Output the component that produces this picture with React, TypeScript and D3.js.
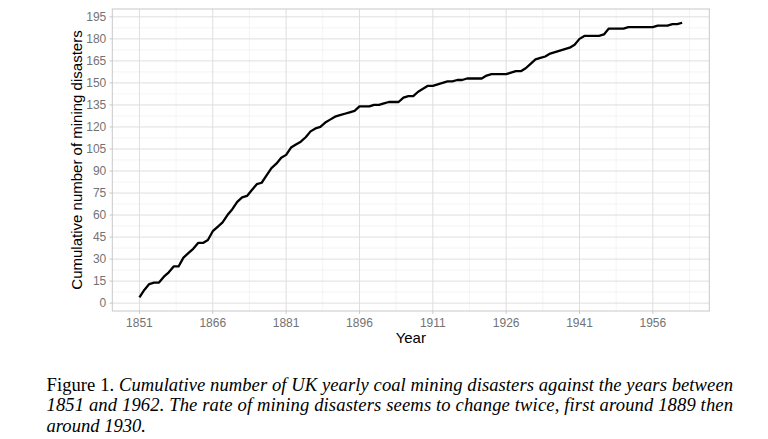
import React from "react";
import * as d3 from "d3";

const years: number[] = [
  1851, 1852, 1853, 1854, 1855, 1856, 1857, 1858, 1859, 1860,
  1861, 1862, 1863, 1864, 1865, 1866, 1867, 1868, 1869, 1870,
  1871, 1872, 1873, 1874, 1875, 1876, 1877, 1878, 1879, 1880,
  1881, 1882, 1883, 1884, 1885, 1886, 1887, 1888, 1889, 1890,
  1891, 1892, 1893, 1894, 1895, 1896, 1897, 1898, 1899, 1900,
  1901, 1902, 1903, 1904, 1905, 1906, 1907, 1908, 1909, 1910,
  1911, 1912, 1913, 1914, 1915, 1916, 1917, 1918, 1919, 1920,
  1921, 1922, 1923, 1924, 1925, 1926, 1927, 1928, 1929, 1930,
  1931, 1932, 1933, 1934, 1935, 1936, 1937, 1938, 1939, 1940,
  1941, 1942, 1943, 1944, 1945, 1946, 1947, 1948, 1949, 1950,
  1951, 1952, 1953, 1954, 1955, 1956, 1957, 1958, 1959, 1960,
  1961, 1962,
];

const cumulative: number[] = [
  4, 9, 13, 14, 14, 18, 21, 25, 25, 31,
  34, 37, 41, 41, 43, 49, 52, 55, 60, 64,
  69, 72, 73, 77, 81, 82, 87, 92, 95, 99,
  101, 106, 108, 110, 113, 117, 119, 120, 123, 125,
  127, 128, 129, 130, 131, 134, 134, 134, 135, 135,
  136, 137, 137, 137, 140, 141, 141, 144, 146, 148,
  148, 149, 150, 151, 151, 152, 152, 153, 153, 153,
  153, 155, 156, 156, 156, 156, 157, 158, 158, 160,
  163, 166, 167, 168, 170, 171, 172, 173, 174, 176,
  180, 182, 182, 182, 182, 183, 187, 187, 187, 187,
  188, 188, 188, 188, 188, 188, 189, 189, 189, 190,
  190, 191,
];

const xTicks: number[] = [1851, 1866, 1881, 1896, 1911, 1926, 1941, 1956];
const yTicks: number[] = [0, 15, 30, 45, 60, 75, 90, 105, 120, 135, 150, 165, 180, 195];

const xTitle = "Year";
const yTitle = "Cumulative number of mining disasters";

const captionLines = [
  { lead: "Figure 1. ", text: "Cumulative number of UK yearly coal mining disasters against the years between", justify: true },
  { lead: "", text: "1851 and 1962. The rate of mining disasters seems to change twice, first around 1889 then", justify: true },
  { lead: "", text: "around 1930.", justify: false },
];

export default function App() {
  const W = 768;
  const H = 439;
  const left = 112.3;
  const right = 709.3;
  const top = 9;
  const bottom = 311;

  const data = years.map((y, i) => ({ year: y, value: cumulative[i] }));

  const xMin = d3.min(years)!;
  const xMax = d3.max(years)!;
  const xPad = (xMax - xMin) * 0.05;
  const yMin = d3.min(cumulative)!;
  const yMax = d3.max(cumulative)!;
  const yPad = (yMax - yMin) * 0.05;

  const x = d3.scaleLinear().domain([xMin - xPad, xMax + xPad]).range([left, right]);
  const y = d3.scaleLinear().domain([yMin - yPad, yMax + yPad]).range([bottom, top]);

  const xMinor: number[] = [];
  for (let i = 0; i < xTicks.length; i++) {
    const step = xTicks[1] - xTicks[0];
    const m = xTicks[i] + step / 2;
    if (x(m) < right) xMinor.push(m);
  }
  const xMinorBefore = xTicks[0] - (xTicks[1] - xTicks[0]) / 2;
  if (x(xMinorBefore) > left) xMinor.unshift(xMinorBefore);

  const yMinor: number[] = [];
  for (let i = 0; i < yTicks.length; i++) {
    const step = yTicks[1] - yTicks[0];
    const m = yTicks[i] + step / 2;
    if (y(m) > top) yMinor.push(m);
  }
  const yMinorBefore = yTicks[0] - (yTicks[1] - yTicks[0]) / 2;
  if (y(yMinorBefore) < bottom) yMinor.unshift(yMinorBefore);

  const line = d3
    .line<{ year: number; value: number }>()
    .x((d) => x(d.year))
    .y((d) => y(d.value));

  const tickColor = "#737373";
  const gridMajor = "#dedede";
  const gridMinor = "#ececec";
  const sans = "Arial, 'Liberation Sans', Helvetica, sans-serif";
  const serif = "'Times New Roman', 'Liberation Serif', serif";

  const capLeft = 46.5;
  const capRight = 733;
  const capBase = [391, 411.3, 431.6];
  const capSize = 18.6;

  return (
    <div style={{ position: "absolute", left: 0, top: 0, width: W, height: H, background: "#fff" }}>
      <svg width={W} height={H} viewBox={`0 0 ${W} ${H}`} style={{ display: "block" }}>
        <rect x={0} y={0} width={W} height={H} fill="#fff" />
        {yMinor.map((t) => (
          <line key={"ym" + t} x1={left} x2={right} y1={y(t)} y2={y(t)} stroke={gridMinor} strokeWidth={0.6} />
        ))}
        {xMinor.map((t) => (
          <line key={"xm" + t} x1={x(t)} x2={x(t)} y1={top} y2={bottom} stroke={gridMinor} strokeWidth={0.6} />
        ))}
        {yTicks.map((t) => (
          <line key={"yg" + t} x1={left} x2={right} y1={y(t)} y2={y(t)} stroke={gridMajor} strokeWidth={1} />
        ))}
        {xTicks.map((t) => (
          <line key={"xg" + t} x1={x(t)} x2={x(t)} y1={top} y2={bottom} stroke={gridMajor} strokeWidth={1} />
        ))}
        <rect x={left} y={top} width={right - left} height={bottom - top} fill="none" stroke="#c8c8c8" strokeWidth={1} />
        <path d={line(data) || ""} fill="none" stroke="#000" strokeWidth={2.3} strokeLinejoin="round" strokeLinecap="butt" />
        {yTicks.map((t) => (
          <g key={"yt" + t}>
            <line x1={left - 2.8} x2={left} y1={y(t)} y2={y(t)} stroke="#c8c8c8" strokeWidth={1} />
            <text x={left - 6} y={y(t)} dy="0.35em" textAnchor="end" fontFamily={sans} fontSize={12} fill={tickColor}>
              {t}
            </text>
          </g>
        ))}
        {xTicks.map((t) => (
          <g key={"xt" + t}>
            <line x1={x(t)} x2={x(t)} y1={bottom} y2={bottom + 2.8} stroke="#c8c8c8" strokeWidth={1} />
            <text x={x(t)} y={bottom + 11.7} dy="0.35em" textAnchor="middle" fontFamily={sans} fontSize={12} fill={tickColor}>
              {t}
            </text>
          </g>
        ))}
        <text x={(left + right) / 2} y={338} dy="0.35em" textAnchor="middle" fontFamily={sans} fontSize={15} fill="#000">
          {xTitle}
        </text>
        <text
          transform={`translate(${77},${(top + bottom) / 2}) rotate(-90)`}
          textAnchor="middle"
          dy="0.35em"
          fontFamily={sans}
          fontSize={15}
          fill="#000"
        >
          {yTitle}
        </text>
        {captionLines.map((c, i) => (
          <text
            key={"cap" + i}
            x={capLeft}
            y={capBase[i]}
            fontFamily={serif}
            fontSize={capSize}
            fill="#000"
            {...(c.justify ? { textLength: capRight - capLeft, lengthAdjust: "spacing" } : {})}
          >
            {c.lead ? <tspan fontStyle="normal">{c.lead}</tspan> : null}
            <tspan fontStyle="italic">{c.text}</tspan>
          </text>
        ))}
      </svg>
    </div>
  );
}
